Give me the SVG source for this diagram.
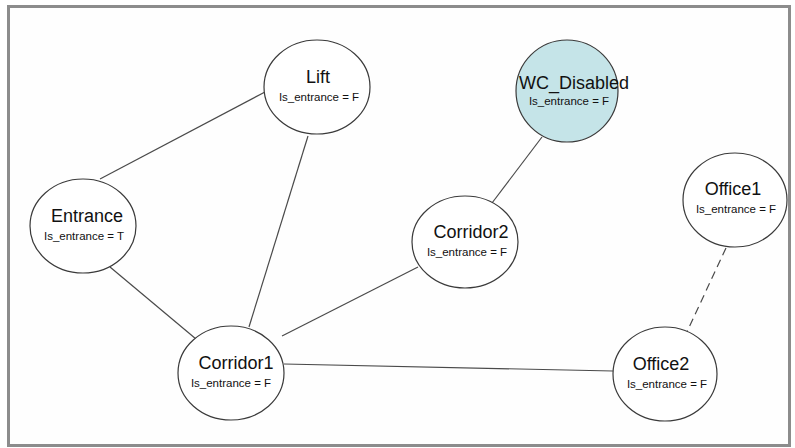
<svg xmlns="http://www.w3.org/2000/svg" width="795" height="448" viewBox="0 0 795 448">
  <style>
    .frame { fill: #fefefe; stroke: #8c8c8c; stroke-width: 3; }
    .node { fill: #ffffff; stroke: #3a3a3a; stroke-width: 1.2; }
    .node.accessible { fill: #c5e4e8; }
    .edge { stroke: #4a4a4a; stroke-width: 1.2; fill: none; }
    .edge.dashed { stroke-dasharray: 8 5; }
    .name { font-family: "Liberation Sans", Arial, sans-serif; font-size: 18px; fill: #111; text-anchor: middle; }
    .attr { font-family: "Liberation Sans", Arial, sans-serif; font-size: 11.5px; fill: #111; text-anchor: middle; }
  </style>

  <rect class="frame" x="8.5" y="6.5" width="781" height="439"/>

  <!-- connectors between rooms -->
  <g id="edges">
    <line class="edge" x1="265" y1="92" x2="100" y2="179"/>
    <line class="edge" x1="308" y1="136" x2="249" y2="327"/>
    <line class="edge" x1="110" y1="267" x2="196" y2="339"/>
    <line class="edge" x1="282" y1="336" x2="418" y2="267"/>
    <line class="edge" x1="492" y1="203" x2="542" y2="137"/>
    <line class="edge" x1="284" y1="364" x2="613" y2="371"/>
    <line class="edge dashed" x1="726" y1="248" x2="685" y2="336"/>
  </g>

  <!-- rooms -->
  <g id="lift">
    <ellipse class="node" cx="317" cy="87" rx="53" ry="47"/>
    <text class="name" x="318" y="83">Lift</text>
    <text class="attr" x="319" y="101">Is_entrance = F</text>
  </g>

  <g id="wc_disabled">
    <ellipse class="node accessible" cx="567" cy="91" rx="51" ry="51"/>
    <text class="name" x="574" y="89">WC_Disabled</text>
    <text class="attr" x="569" y="105">Is_entrance = F</text>
  </g>

  <g id="entrance">
    <ellipse class="node" cx="83" cy="226" rx="53" ry="47"/>
    <text class="name" x="87" y="222">Entrance</text>
    <text class="attr" x="84" y="240">Is_entrance = T</text>
  </g>

  <g id="corridor2">
    <ellipse class="node" cx="465" cy="242" rx="53" ry="46"/>
    <text class="name" x="471" y="238">Corridor2</text>
    <text class="attr" x="467" y="256">Is_entrance = F</text>
  </g>

  <g id="office1">
    <ellipse class="node" cx="735" cy="200" rx="52" ry="47"/>
    <text class="name" x="733" y="195">Office1</text>
    <text class="attr" x="736" y="213">Is_entrance = F</text>
  </g>

  <g id="corridor1">
    <ellipse class="node" cx="231" cy="373" rx="53" ry="47"/>
    <text class="name" x="236" y="369">Corridor1</text>
    <text class="attr" x="231" y="387">Is_entrance = F</text>
  </g>

  <g id="office2">
    <ellipse class="node" cx="665" cy="374" rx="52" ry="47"/>
    <text class="name" x="661" y="370">Office2</text>
    <text class="attr" x="667" y="388">Is_entrance = F</text>
  </g>
</svg>
